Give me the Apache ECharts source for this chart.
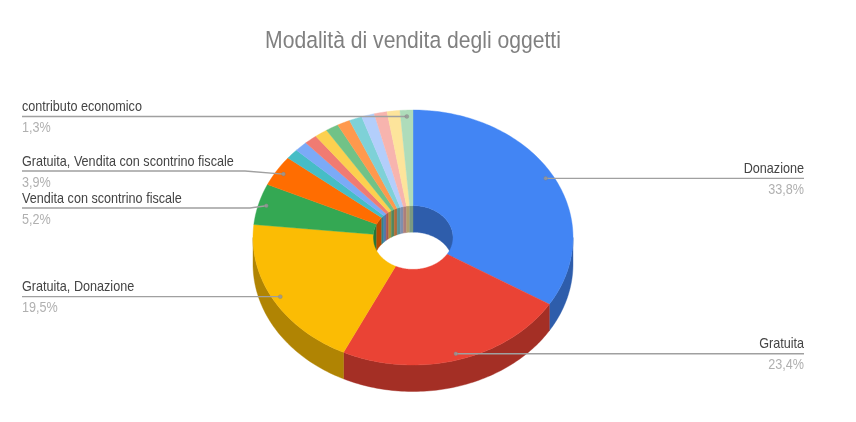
<!DOCTYPE html>
<html>
<head>
<meta charset="utf-8">
<style>html,body{margin:0;padding:0;background:#fff}#c{width:856px;height:422px}</style>
<script src="https://cdn.jsdelivr.net/npm/echarts@6/dist/echarts.min.js"></script>
</head>
<body>
<div id="c"></div>
<script>
const titleText = 'Modalità di vendita degli oggetti';
const categories = ['Donazione','Gratuita','Gratuita, Donazione','Vendita con scontrino fiscale','Gratuita, Vendita con scontrino fiscale','','','','','','','','','','','contributo economico'];
const counts = [26,18,15,4,3,1,1,1,1,1,1,1,1,1,1,1];
const colors = ['#4285F4','#EA4335','#FBBC04','#34A853','#FF6D01','#46BDC6','#7BAAF7','#F07B72','#FCD04F','#71C287','#FF994D','#7ED1D7','#B3CEFB','#F7B4AE','#FDE49B','#AEDCBA'];
const wallColors = colors.map(c => {
  const n = parseInt(c.slice(1), 16);
  const f = x => Math.round(x * 0.7);
  return `rgb(${f(n >> 16)},${f((n >> 8) & 255)},${f(n & 255)})`;
});
const labelled = {0:{side:'right'},1:{side:'right'},2:{side:'left'},3:{side:'left',lineY:208,kneeX:250},4:{side:'left',lineY:171,kneeX:245},15:{side:'left'}};

const cx = 413, cy = 237.5, rx = 160, ry = 127.5, holeFrac = 0.25, depth = 26.5;
const squeeze = 0.87;
const fontFamily = '"Liberation Sans", Arial, sans-serif';
const total = counts.reduce((a, b) => a + b, 0);
let run = 0;
const spans = counts.map(v => { const s = run; run += v; return [s / total * 2 * Math.PI, run / total * 2 * Math.PI]; });
const pt = (a, f, dy) => [cx + rx * f * Math.sin(a), cy - ry * f * Math.cos(a) + (dy || 0)];
function arc(a0, a1, f, dy) {
  const n = Math.max(2, Math.ceil((a1 - a0) / 0.02)), out = [];
  for (let i = 0; i <= n; i++) out.push(pt(a0 + (a1 - a0) * i / n, f, dy));
  return out;
}
function poly(points, fill, z2) {
  return {type:'polygon', z2, shape:{points}, style:{fill, stroke:fill, lineWidth:0.4}};
}
function renderItem(params, api) {
  const i = params.dataIndex, [a0, a1] = spans[i], children = [];
  [[0, Math.PI / 2], [1.5 * Math.PI, 2 * Math.PI]].forEach(([lo, hi]) => {
    const s = Math.max(a0, lo), e = Math.min(a1, hi);
    if (e > s) children.push(poly(arc(s, e, holeFrac, 0).concat(arc(s, e, holeFrac, depth).reverse()), wallColors[i], 1));
  });
  const s = Math.max(a0, Math.PI / 2), e = Math.min(a1, 1.5 * Math.PI);
  if (e > s) children.push(poly(arc(s, e, 1, 0).concat(arc(s, e, 1, depth).reverse()), wallColors[i], 2));
  children.push(poly(arc(a0, a1, 1, 0).concat(arc(a0, a1, holeFrac, 0).reverse()), colors[i], 3));
  const lab = labelled[i];
  if (lab) {
    const d = pt((a0 + a1) / 2, 0.95, 0);
    const ly = lab.lineY === undefined ? d[1] : lab.lineY;
    const ex = lab.side === 'right' ? 804 : 22;
    const knee = lab.kneeX === undefined ? [] : [[lab.kneeX, ly]];
    children.push({type:'polyline', z2:4, shape:{points:[d].concat(knee, [[ex, ly]])}, style:{stroke:'#a0a0a0', lineWidth:1.4, fill:null}});
    children.push({type:'circle', z2:5, shape:{cx:d[0], cy:d[1], r:2}, style:{fill:'rgba(150,150,150,.85)', stroke:'rgba(120,120,120,.4)', lineWidth:0.6}});
    const align = lab.side === 'right' ? 'right' : 'left';
    children.push({type:'text', z2:6, x:ex, y:ly - 9.5, scaleX:squeeze, style:{text:categories[i], align, verticalAlign:'middle', fill:'#444', font:'14.5px ' + fontFamily}});
    children.push({type:'text', z2:6, x:ex, y:ly + 11.5, scaleX:squeeze, style:{text:(api.value(0) / total * 100).toFixed(1).replace('.', ',') + '%', align, verticalAlign:'middle', fill:'#b0b0b0', font:'14.5px ' + fontFamily}});
  }
  return {type:'group', children};
}
const chart = echarts.init(document.getElementById('c'), null, {renderer:'canvas'});
chart.setOption({
  animation:false,
  backgroundColor:'#fff',
  graphic:[{type:'text', x:413, y:41, scaleX:0.862, silent:true, style:{text:titleText, align:'center', verticalAlign:'middle', fill:'#808080', font:'24.5px ' + fontFamily}}],
  series:[{type:'custom', coordinateSystem:'none', silent:true, clip:false, renderItem, data:counts.map((v, i) => ({value:[v], name:categories[i]}))}]
});
</script>
</body>
</html>
